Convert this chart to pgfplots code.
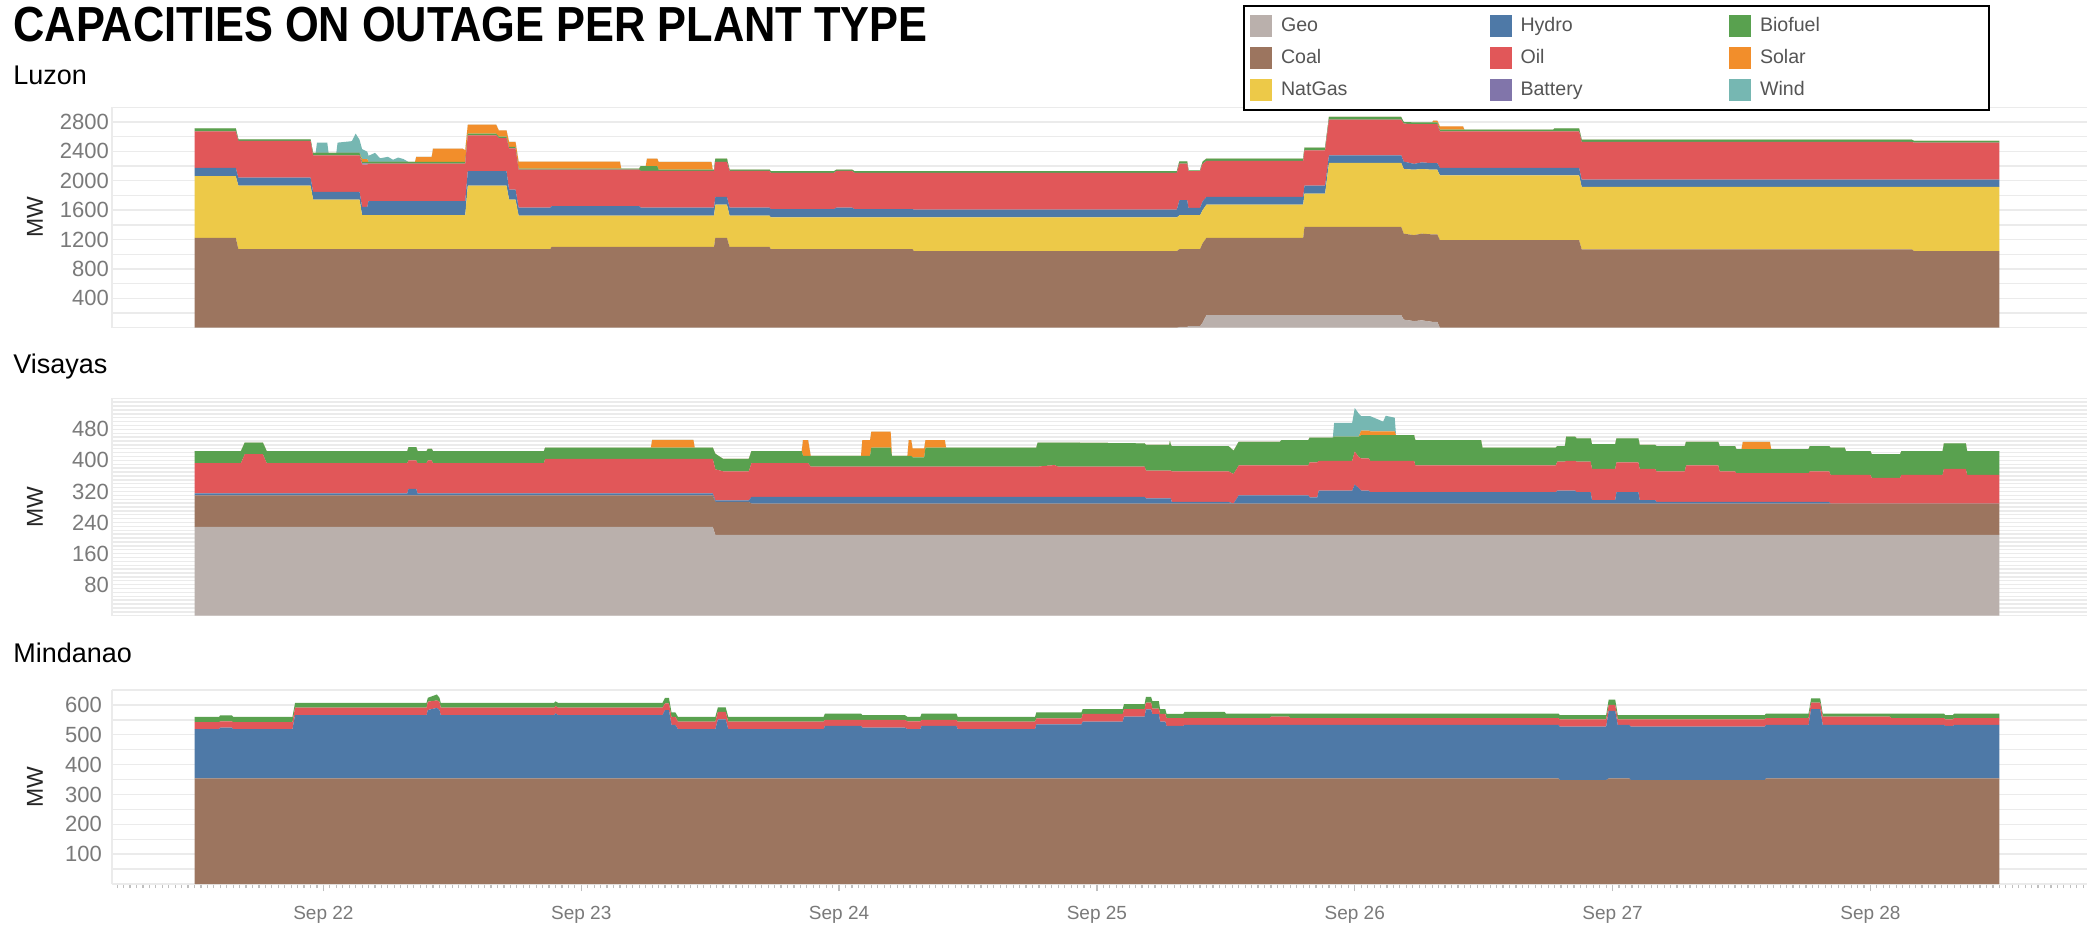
\documentclass[border=0pt]{standalone}
\usepackage{fontspec}
\setmainfont{Liberation Sans}
\usepackage{graphicx}
\usepackage{pgfplots}
\usepackage{pgfplotstable}
\pgfplotsset{compat=1.18}

\definecolor{cGeo}{HTML}{BAB0AC}
\definecolor{cCoal}{HTML}{9C755F}
\definecolor{cGas}{HTML}{EDC948}
\definecolor{cHydro}{HTML}{4E79A7}
\definecolor{cOil}{HTML}{E15759}
\definecolor{cBatt}{HTML}{8175AA}
\definecolor{cBio}{HTML}{59A14F}
\definecolor{cSolar}{HTML}{F28E2B}
\definecolor{cWind}{HTML}{76B7B2}
\definecolor{gridc}{HTML}{EBEBEB}
\definecolor{tickc}{HTML}{7A7A7A}
\definecolor{legc}{HTML}{555555}

% x = days since Sep 21 00:00; values in MW (layer thickness)
\pgfplotstableread{
x geo coal gas hydro oil batt bio solar wind
0.50 0 1223 839 113 498 0 41 0 0
0.66 0 1223 839 113 498 0 41 0 0
0.67 0 1069 866 108 499 0 23 0 0
0.95 0 1069 866 108 499 0 23 0 0
0.96 0 1069 675 105 498 0 32 0 0
0.97 0 1069 675 105 498 0 32 0 0
0.975 0 1069 675 105 498 0 32 0 140
1.015 0 1069 675 105 498 0 32 0 140
1.02 0 1069 675 105 498 0 32 0 0
1.05 0 1069 675 105 498 0 32 0 0
1.055 0 1069 675 105 498 0 32 0 140
1.11 0 1069 675 105 498 0 32 0 160
1.125 0 1069 675 105 498 0 32 0 262
1.14 0 1069 675 105 498 0 32 0 180
1.15 0 1069 462 114 575 15 21 40 134
1.17 0 1069 462 114 575 15 21 40 100
1.175 0 1069 462 191 512 0 22 0 84
1.20 0 1069 462 191 512 0 22 0 124
1.22 0 1069 462 191 512 0 22 0 50
1.25 0 1069 462 191 512 0 22 0 70
1.27 0 1069 462 191 512 0 22 0 30
1.29 0 1069 462 191 512 0 22 0 60
1.31 0 1069 462 191 512 0 22 0 40
1.33 0 1069 462 191 512 0 22 0 0
1.355 0 1069 462 191 512 0 22 0 0
1.36 0 1069 462 191 512 0 22 68 0
1.42 0 1069 462 191 512 0 22 68 0
1.425 0 1069 462 191 512 0 22 181 0
1.54 0 1069 462 191 512 0 22 181 0
1.55 0 1069 462 191 512 0 22 160 0
1.56 0 1069 866 195 489 0 22 123 0
1.67 0 1069 866 195 489 0 22 123 0
1.68 0 1069 866 195 450 0 22 85 0
1.71 0 1069 866 195 450 0 22 85 0
1.72 0 1069 675 136 560 0 20 70 0
1.745 0 1069 675 136 560 0 20 70 0
1.757 0 1069 458 109 516 0 14 95 0
1.88 0 1069 458 109 516 0 14 95 0
1.885 0 1101 426 127 498 0 14 95 0
2.15 0 1101 426 127 498 0 14 95 0
2.155 0 1101 426 127 498 0 14 0 0
2.225 0 1101 426 127 498 0 14 0 0
2.23 0 1101 426 109 498 0 64 0 0
2.25 0 1101 426 109 498 0 64 0 0
2.255 0 1101 426 109 498 0 64 104 0
2.295 0 1101 426 109 498 0 64 104 0
2.30 0 1101 426 109 498 0 18 104 0
2.505 0 1101 426 109 498 0 18 104 0
2.51 0 1101 426 109 498 0 18 0 0
2.515 0 1101 426 109 498 0 18 0 0
2.52 0 1223 453 105 475 0 46 0 0
2.565 0 1223 453 105 475 0 46 0 0
2.575 0 1101 426 109 498 0 18 0 0
2.73 0 1101 426 109 498 0 18 0 0
2.735 0 1069 431 113 494 0 23 0 0
2.98 0 1069 431 113 494 0 23 0 0
2.99 0 1069 431 136 498 0 18 0 0
3.05 0 1069 431 136 498 0 18 0 0
3.06 0 1069 431 113 494 0 23 0 0
3.285 0 1069 431 113 494 0 23 0 0
3.29 0 1042 458 108 499 0 23 0 0
4.31 0 1042 458 108 499 0 23 0 0
4.32 10 1059 462 204 499 0 31 0 0
4.35 10 1059 462 204 499 0 31 0 0
4.355 20 1049 462 99 500 0 13 0 0
4.40 20 1049 462 99 500 0 13 0 0
4.41 70 1080 450 120 510 0 30 0 0
4.425 172 1051 453 105 489 0 32 0 0
4.80 172 1051 453 105 489 0 32 0 0
4.805 172 1201 453 109 480 0 36 0 0
4.885 172 1201 453 109 480 0 36 0 0
4.90 172 1201 870 104 485 0 36 0 0
5.18 172 1201 870 104 485 0 36 0 0
5.19 110 1170 880 100 518 0 22 0 0
5.23 90 1170 890 80 540 0 25 0 0
5.26 100 1180 880 90 520 0 25 0 0
5.30 80 1190 880 90 530 0 25 0 0
5.305 80 1190 880 90 530 0 25 25 0
5.32 80 1190 880 90 530 0 25 25 0
5.33 0 1192 883 100 498 0 23 45 0
5.42 0 1192 883 100 498 0 23 45 0
5.425 0 1192 883 100 498 0 23 0 0
5.77 0 1192 883 100 498 0 23 0 0
5.775 0 1192 883 100 498 0 41 0 0
5.87 0 1192 883 100 498 0 41 0 0
5.88 0 1065 852 99 512 0 32 0 0
7.16 0 1065 852 99 512 0 32 0 0
7.17 0 1042 875 99 504 0 22 0 0
7.50 0 1042 875 99 504 0 22 0 0
}\luzon

\pgfplotstableread{
x geo coal hydro oil bio solar wind
0.50 229 81 5 78 31 0 0
0.68 229 81 5 78 31 0 0
0.695 229 81 5 101 30 0 0
0.765 229 81 5 101 30 0 0
0.78 229 81 5 78 31 0 0
1.325 229 81 5 78 31 0 0
1.33 229 81 17 73 34 0 0
1.36 229 81 17 73 34 0 0
1.365 229 81 5 78 31 0 0
1.40 229 81 5 78 31 0 0
1.405 229 81 5 85 30 0 0
1.42 229 81 5 85 30 0 0
1.425 229 81 5 78 31 0 0
1.855 229 81 5 78 31 0 0
1.86 229 81 5 89 29 0 0
2.27 229 81 5 89 29 0 0
2.275 229 81 5 89 29 20 0
2.435 229 81 5 89 29 20 0
2.44 229 81 5 89 29 0 0
2.51 229 81 5 89 29 0 0
2.52 208 85 4 80 40 0 0
2.55 208 85 4 75 32 0 0
2.65 208 85 4 75 32 0 0
2.66 208 81 17 87 31 0 0
2.855 208 81 17 87 31 0 0
2.86 208 81 17 87 19 40 0
2.88 208 81 17 87 19 40 0
2.89 208 81 17 78 28 0 0
3.085 208 81 17 78 28 0 0
3.09 208 81 17 78 28 40 0
3.12 208 81 17 78 28 40 0
3.125 208 81 17 78 49 41 0
3.20 208 81 17 78 49 41 0
3.205 208 81 17 78 28 0 0
3.265 208 81 17 78 28 0 0
3.27 208 81 17 78 28 40 0
3.28 208 81 17 78 28 40 0
3.285 208 81 17 78 24 23 0
3.33 208 81 17 78 24 23 0
3.335 208 81 17 78 49 19 0
3.41 208 81 17 78 49 19 0
3.415 208 81 17 78 49 0 0
3.765 208 81 17 78 49 0 0
3.77 208 81 17 78 62 0 0
3.835 208 81 17 82 58 0 0
3.85 208 81 17 78 62 0 0
4.185 208 81 17 78 60 0 0
4.19 208 81 13 72 66 0 0
4.28 208 81 13 72 66 0 0
4.283 208 81 13 72 76 0 0
4.287 208 81 13 72 66 0 0
4.29 208 81 4 79 65 0 0
4.51 208 81 4 79 65 0 0
4.53 208 81 0 76 60 0 0
4.55 208 81 21 77 61 0 0
4.71 208 81 21 77 61 0 0
4.715 208 81 21 77 65 0 0
4.82 208 81 21 77 65 0 0
4.825 208 81 16 90 64 0 0
4.855 208 81 16 90 64 0 0
4.86 208 81 33 77 60 0 0
4.915 208 81 33 77 60 0 0
4.92 208 81 33 77 62 0 36
4.99 208 81 33 77 62 0 36
5.00 208 81 49 85 38 0 74
5.015 208 81 40 80 52 0 60
5.025 208 81 33 83 60 12 37
5.055 208 81 33 83 60 12 37
5.06 208 81 29 81 66 10 39
5.11 208 81 29 81 66 10 25
5.12 208 81 29 81 66 10 40
5.155 208 81 29 81 66 10 35
5.16 208 81 29 81 66 0 0
5.23 208 81 29 81 66 0 0
5.235 208 81 29 69 65 0 0
5.49 208 81 29 69 65 0 0
5.495 208 81 29 69 46 0 0
5.78 208 81 29 69 46 0 0
5.785 208 81 33 75 40 0 0
5.815 208 81 33 75 40 0 0
5.82 208 81 33 77 62 0 0
5.855 208 81 33 77 62 0 0
5.86 208 81 29 79 60 0 0
5.915 208 81 29 79 60 0 0
5.92 208 81 9 80 64 0 0
6.01 208 81 9 80 64 0 0
6.015 208 81 29 77 62 0 0
6.10 208 81 29 77 62 0 0
6.105 208 81 9 80 62 0 0
6.165 208 81 9 80 62 0 0
6.17 208 81 4 79 65 0 0
6.28 208 81 4 79 65 0 0
6.285 208 81 4 94 61 0 0
6.41 208 81 4 94 61 0 0
6.415 208 81 4 79 65 0 0
6.475 208 81 4 79 65 0 0
6.48 208 81 4 74 62 0 0
6.50 208 81 4 74 62 0 0
6.505 208 81 4 74 62 19 0
6.61 208 81 4 74 62 19 0
6.615 208 81 4 74 62 0 0
6.76 208 81 4 74 62 0 0
6.765 208 81 4 79 65 0 0
6.84 208 81 4 79 65 0 0
6.845 208 81 0 74 70 0 0
6.90 208 81 0 74 70 0 0
6.905 208 81 0 74 61 0 0
7.00 208 81 0 74 61 0 0
7.005 208 81 0 66 61 0 0
7.115 208 81 0 66 61 0 0
7.12 208 81 0 74 61 0 0
7.28 208 81 0 74 61 0 0
7.285 208 81 0 89 66 0 0
7.37 208 81 0 89 66 0 0
7.375 208 81 0 74 61 0 0
7.50 208 81 0 74 61 0 0
}\visayas

\pgfplotstableread{
x coal hydro oil bio
0.50 354 165 23 18
0.595 354 165 23 18
0.60 354 170 21 20
0.645 354 170 21 20
0.65 354 165 23 18
0.88 354 165 23 18
0.89 354 212 25 16
1.40 354 212 25 16
1.405 354 229 28 13
1.44 354 236 25 20
1.45 354 229 28 13
1.455 354 212 25 16
1.895 354 212 25 16
1.90 354 218 24 16
1.91 354 212 25 16
2.315 354 212 25 16
2.325 354 229 22 19
2.34 354 229 22 19
2.35 354 179 27 15
2.365 354 179 27 15
2.375 354 165 25 16
2.52 354 165 25 16
2.53 354 198 25 15
2.56 354 198 25 15
2.57 354 165 25 16
2.94 354 165 25 16
2.945 354 176 20 21
3.085 354 176 20 21
3.09 354 170 26 16
3.255 354 170 26 16
3.265 354 165 26 15
3.315 354 165 26 15
3.32 354 176 20 21
3.455 354 176 20 21
3.46 354 165 25 16
3.76 354 165 25 16
3.765 354 181 20 20
3.94 354 181 20 20
3.945 354 190 26 16
4.10 354 190 26 16
4.105 354 207 25 17
4.185 354 207 25 17
4.19 354 231 23 19
4.21 354 231 23 19
4.215 354 215 19 25
4.24 354 215 19 25
4.245 354 190 26 16
4.265 354 190 26 16
4.27 354 176 26 14
4.335 354 176 26 14
4.34 354 179 23 21
4.495 354 179 23 21
4.50 354 179 23 15
4.67 354 179 23 15
4.675 354 179 28 10
4.745 354 179 28 10
4.75 354 179 23 15
5.79 354 179 23 15
5.795 348 179 25 14
5.975 348 179 25 14
5.985 354 226 20 18
6.01 354 226 20 18
6.02 354 179 19 14
6.065 354 179 19 14
6.07 348 179 25 14
6.59 348 179 25 14
6.595 354 179 23 15
6.76 354 179 23 15
6.77 354 232 22 14
6.805 354 232 22 14
6.815 354 179 28 10
7.075 354 179 28 10
7.08 354 179 23 15
7.285 354 179 23 15
7.29 354 176 22 14
7.32 354 176 22 14
7.325 354 179 23 15
7.50 354 179 23 15
}\mindanao

\pgfplotsset{
  panel/.style={
    scale only axis, width=987.5pt, xmin=0.18, xmax=7.84, ymin=0,
    stack plots=y,
    separate axis lines, axis x line*=bottom, axis y line*=left,
    axis line style={draw=gridc, line width=0.7pt},
    ymajorgrids, yminorgrids,
    major grid style={draw=gridc, line width=0.7pt},
    minor grid style={draw=gridc, line width=0.7pt},
    xtick=\empty,
    ytick style={draw=none},
    major tick length=0pt, minor tick length=0pt,
    yticklabel style={font=\fontsize{11}{11}\selectfont, text=tickc, xshift=2pt},
    /pgf/number format/assume math mode=true,
    /pgf/number format/1000 sep={},
    ylabel={MW},
    ylabel style={at={(axis description cs:-0.039,0.5)}, anchor=center, font=\fontsize{11.5}{11.5}\selectfont, text=black!85},
  },
}
\newcommand\lgd[2][108.75pt]{\makebox[#1][l]{\hspace*{4.5pt}#2}}

\begin{document}
\begin{tikzpicture}
\useasboundingbox (0,0) rectangle (1045pt,-462.5pt);
\fill[white] (0,0) rectangle (1045pt,-462.5pt);

\node[anchor=base west, inner sep=0pt] at (6.6pt,-20.6pt)
  {\resizebox{457pt}{17.2pt}{\bfseries CAPACITIES ON OUTAGE PER PLANT TYPE}};
\node[anchor=base west, inner sep=0pt, font=\fontsize{13.5}{13.5}\selectfont] at (6.5pt,-42.5pt) {Luzon};
\node[anchor=base west, inner sep=0pt, font=\fontsize{13.5}{13.5}\selectfont] at (6.5pt,-186.5pt) {Visayas};
\node[anchor=base west, inner sep=0pt, font=\fontsize{13.5}{13.5}\selectfont] at (6.5pt,-331.3pt) {Mindanao};

% ---------- Luzon ----------
\begin{axis}[panel, at={(56pt,-53.65pt)}, anchor=north west, height=110.2pt,
  ymax=3000, ytick={400,800,...,2800}, minor ytick={0,200,...,3000},
  legend columns=3, transpose legend, legend cell align=left,
  legend image code/.code={\fill[#1] (0pt,-5.5pt) rectangle (11pt,5.5pt);},
  legend style={at={(0.57266,1.4642)}, anchor=north west, draw=black, line width=1pt,
    inner xsep=3pt, inner ysep=2pt, column sep=0pt, row sep=0pt,
    nodes={inner sep=0pt, text height=11pt, text depth=5pt,
      font=\fontsize{9.8}{10}\selectfont, text=legc}},
]
\addplot[fill=cGeo, draw=none] table[x=x,y=geo]{\luzon} \closedcycle;
\addlegendentry{\lgd{Geo}}
\addplot[fill=cCoal, draw=none] table[x=x,y=coal]{\luzon} \closedcycle;
\addlegendentry{\lgd{Coal}}
\addplot[fill=cGas, draw=none] table[x=x,y=gas]{\luzon} \closedcycle;
\addlegendentry{\lgd{NatGas}}
\addplot[fill=cHydro, draw=none] table[x=x,y=hydro]{\luzon} \closedcycle;
\addlegendentry{\lgd{Hydro}}
\addplot[fill=cOil, draw=none] table[x=x,y=oil]{\luzon} \closedcycle;
\addlegendentry{\lgd{Oil}}
\addplot[fill=cBatt, draw=none] table[x=x,y=batt]{\luzon} \closedcycle;
\addlegendentry{\lgd{Battery}}
\addplot[fill=cBio, draw=none] table[x=x,y=bio]{\luzon} \closedcycle;
\addlegendentry{\lgd[116pt]{Biofuel}}
\addplot[fill=cSolar, draw=none] table[x=x,y=solar]{\luzon} \closedcycle;
\addlegendentry{\lgd[116pt]{Solar}}
\addplot[fill=cWind, draw=none] table[x=x,y=wind]{\luzon} \closedcycle;
\addlegendentry{\lgd[116pt]{Wind}}
\end{axis}

% ---------- Visayas ----------
\begin{axis}[panel, at={(56pt,-199.15pt)}, anchor=north west, height=108.7pt,
  ymax=560, ytick={80,160,...,480}, minor ytick={0,10,...,560},
]
\addplot[fill=cGeo, draw=none] table[x=x,y=geo]{\visayas} \closedcycle;
\addplot[fill=cCoal, draw=none] table[x=x,y=coal]{\visayas} \closedcycle;
\addplot[fill=cHydro, draw=none] table[x=x,y=hydro]{\visayas} \closedcycle;
\addplot[fill=cOil, draw=none] table[x=x,y=oil]{\visayas} \closedcycle;
\addplot[fill=cBio, draw=none] table[x=x,y=bio]{\visayas} \closedcycle;
\addplot[fill=cSolar, draw=none] table[x=x,y=solar]{\visayas} \closedcycle;
\addplot[fill=cWind, draw=none] table[x=x,y=wind]{\visayas} \closedcycle;
\end{axis}

% ---------- Mindanao ----------
\begin{axis}[panel, at={(56pt,-345pt)}, anchor=north west, height=97pt,
  ymax=650, ytick={100,200,...,600}, minor ytick={0,50,...,650},
  xtick={1,2,3,4,5,6,7},
  xticklabels={Sep 22,Sep 23,Sep 24,Sep 25,Sep 26,Sep 27,Sep 28},
  minor xtick={0.2,0.225,...,7.84},
  tick align=outside,
  major tick length=3.5pt, minor tick length=2pt,
  xtick style={draw=black!25, line width=0.6pt},
  xticklabel style={font=\fontsize{9.5}{10}\selectfont, text=tickc, yshift=-4pt},
]
\addplot[fill=cCoal, draw=none] table[x=x,y=coal]{\mindanao} \closedcycle;
\addplot[fill=cHydro, draw=none] table[x=x,y=hydro]{\mindanao} \closedcycle;
\addplot[fill=cOil, draw=none] table[x=x,y=oil]{\mindanao} \closedcycle;
\addplot[fill=cBio, draw=none] table[x=x,y=bio]{\mindanao} \closedcycle;
\end{axis}
\end{tikzpicture}
\end{document}
